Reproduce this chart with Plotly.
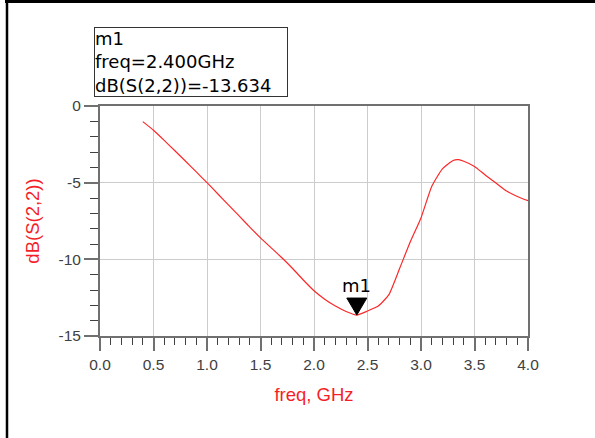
import plotly.graph_objects as go

# ---- data ----
freq_ghz = [0.4, 0.5, 0.6, 0.7, 0.8, 0.9, 1.0, 1.1, 1.2, 1.3, 1.4, 1.5, 1.6, 1.7, 1.8, 1.9,
            2.0, 2.1, 2.2, 2.3, 2.4, 2.5, 2.6, 2.7, 2.8, 2.9, 3.0, 3.1, 3.2, 3.3, 3.35,
            3.4, 3.5, 3.6, 3.7, 3.8, 3.9, 4.0]
db_s22 = [-1.02, -1.58, -2.24, -2.92, -3.6, -4.3, -5.0, -5.72, -6.45, -7.17, -7.9, -8.6,
          -9.25, -9.9, -10.6, -11.35, -12.05, -12.6, -13.05, -13.4, -13.634, -13.37, -13.05,
          -12.3, -10.6, -8.85, -7.3, -5.25, -4.1, -3.55, -3.5, -3.6, -3.94, -4.5, -5.02,
          -5.55, -5.9, -6.18]

marker_name = "m1"
marker_freq = 2.4
marker_db = -13.634

x_tick_vals = [0.0, 0.5, 1.0, 1.5, 2.0, 2.5, 3.0, 3.5, 4.0]
x_tick_text = ["0.0", "0.5", "1.0", "1.5", "2.0", "2.5", "3.0", "3.5", "4.0"]
y_tick_vals = [0, -5, -10, -15]
y_tick_text = ["0", "-5", "-10", "-15"]

x_title = "freq, GHz"
y_title = "dB(S(2,2))"

# ---- figure ----
W, H = 595, 438
L, R, T, B = 100, 67, 106, 102
pw, ph = W - L - R, H - T - B

def px_x(p):
    return (p - L) / pw

def px_y(p):
    return (H - B - p) / ph

RED = "rgb(245,30,40)"
AX = "#707070"
TICKFONT = dict(family="Liberation Sans, Arial", size=15.5, color="#404040")
TITLEFONT = dict(family="Liberation Sans, Arial", size=18.5, color=RED)
BOXFONT = dict(family="DejaVu Sans", size=18, color="black")

fig = go.Figure()
fig.add_trace(go.Scatter(x=freq_ghz, y=db_s22, mode="lines",
                         line=dict(color="rgb(250,40,40)", width=1.2, shape="spline", smoothing=0.5),
                         showlegend=False, hoverinfo="skip"))

# marker triangle (tip at the marker point)
fig.add_shape(type="path", xref="x", yref="y", xsizemode="pixel", ysizemode="pixel",
              xanchor=marker_freq, yanchor=marker_db,
              path="M -10,17 L 10,17 L 0,0 Z", fillcolor="black", line=dict(color="black", width=1))
fig.add_annotation(x=marker_freq, y=marker_db, xref="x", yref="y", text=marker_name,
                   showarrow=False, yanchor="bottom", yshift=17, font=BOXFONT)

# marker readout box
fig.add_annotation(
    xref="paper", yref="paper", x=px_x(94), y=px_y(27), xanchor="left", yanchor="top",
    text=f"{marker_name}<br>freq={marker_freq:.3f}GHz<br>{y_title}={marker_db:.3f}",
    showarrow=False, align="left", valign="top", width=192,
    bordercolor="#333333", borderwidth=1, borderpad=0, bgcolor="white", font=BOXFONT)

# page frame lines (top and left)
fig.add_shape(type="line", xref="paper", yref="paper", x0=px_x(5), x1=px_x(595),
              y0=px_y(1.5), y1=px_y(1.5), line=dict(color="black", width=3))
fig.add_shape(type="line", xref="paper", yref="paper", x0=px_x(7), x1=px_x(7),
              y0=px_y(0), y1=px_y(438), line=dict(color="black", width=2.5))

fig.update_layout(
    width=W, height=H, margin=dict(l=L, r=R, t=T, b=B, autoexpand=False),
    paper_bgcolor="white", plot_bgcolor="white",
    xaxis=dict(range=[0, 4], tickvals=x_tick_vals, ticktext=x_tick_text,
               showline=True, linecolor=AX, linewidth=2, mirror=True,
               ticks="outside", ticklen=13, tickwidth=1.5, tickcolor=AX,
               showgrid=True, gridcolor="#cccccc", gridwidth=1, zeroline=False,
               tickfont=TICKFONT,
               minor=dict(dtick=0.1, ticks="outside", ticklen=7, tickwidth=1,
                          tickcolor="#404040", showgrid=False),
               title=dict(text=x_title, font=TITLEFONT, standoff=16)),
    yaxis=dict(range=[-15, 0], tickvals=y_tick_vals, ticktext=y_tick_text,
               showline=True, linecolor=AX, linewidth=2, mirror=True,
               ticks="outside", ticklen=14, tickwidth=1.5, tickcolor=AX,
               showgrid=True, gridcolor="#cccccc", gridwidth=1, zeroline=False,
               tickfont=TICKFONT,
               minor=dict(dtick=1, ticks="outside", ticklen=8, tickwidth=1,
                          tickcolor="#404040", showgrid=False),
               title=dict(text=y_title, font=TITLEFONT, standoff=14)),
)

fig.write_html("out.html", config={"displayModeBar": False},
               post_script="document.body.style.margin='0';document.body.style.overflow='hidden';")
